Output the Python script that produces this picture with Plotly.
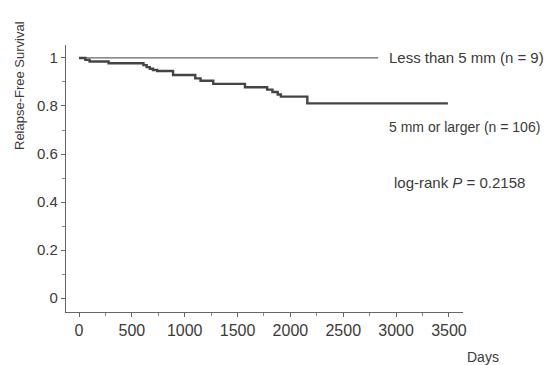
import plotly.graph_objects as go

# Data
small_days = [0, 2830]
small_surv = [1.0, 1.0]

large_days = [0, 60, 100, 280, 610, 640, 670, 700, 740, 890, 1100, 1150, 1270,
              1570, 1780, 1830, 1880, 1910, 2160, 3490]
large_surv = [1.0, 0.992, 0.985, 0.978, 0.97, 0.962, 0.955, 0.95, 0.946, 0.929,
              0.915, 0.905, 0.892, 0.878, 0.868, 0.858, 0.848, 0.839, 0.811, 0.811]

x_ticks = [0, 500, 1000, 1500, 2000, 2500, 3000, 3500]
y_ticks = [0, 0.2, 0.4, 0.6, 0.8, 1]
y_ticklabels = ["0", "0.2", "0.4", "0.6", "0.8", "1"]

OFF = 8  # page body margin
W, H = 554 - OFF, 365 - OFF
# plot area in window pixel coordinates
X0, X1, Y0, Y1 = 66, 463, 45, 312
L, R, T, B = X0 - OFF, 554 - X1, Y0 - OFF, 365 - Y1
pw, ph = X1 - X0, Y1 - Y0

def px(x):
    return (x - X0) / pw

def py(y):
    return (Y1 - y) / ph

txt = "#3a3a3a"
font = "Liberation Sans, Arial, sans-serif"

fig = go.Figure()
fig.add_trace(go.Scatter(x=small_days, y=small_surv, mode="lines", line_shape="hv",
                         line=dict(color="#666666", width=1.3), showlegend=False))
fig.add_trace(go.Scatter(x=large_days, y=large_surv, mode="lines", line_shape="hv",
                         line=dict(color="#444444", width=2.4), showlegend=False))

fig.update_layout(
    width=W, height=H,
    margin=dict(l=L, r=R, t=T, b=B),
    paper_bgcolor="white", plot_bgcolor="white",
    font=dict(family=font, color=txt),
    xaxis=dict(range=[-123, 3633], tickvals=x_ticks, ticks="outside", ticklen=4,
               tickcolor="#666", showline=True, linecolor="#666", linewidth=1.2,
               showgrid=False, zeroline=False, tickfont=dict(size=16, color=txt),
               minor=dict(dtick=250, tick0=0, ticks="outside", ticklen=3, tickcolor="#888")),
    yaxis=dict(range=[-0.058, 1.054], tickvals=y_ticks, ticktext=y_ticklabels,
               ticks="outside", ticklen=4, tickcolor="#666", showline=True,
               linecolor="#666", linewidth=1.2, showgrid=False, zeroline=False,
               tickfont=dict(size=15, color=txt),
               minor=dict(dtick=0.1, tick0=0, ticks="outside", ticklen=3, tickcolor="#888")),
)

def ann(text, x, y, size, xanchor="left", textangle=0):
    fig.add_annotation(text=text, x=px(x), y=py(y), xref="paper", yref="paper",
                       showarrow=False, xanchor=xanchor, yanchor="middle",
                       textangle=textangle, font=dict(size=size, color=txt, family=font))

ann("Less than 5 mm (n = 9)", 387, 57, 15)
ann("5 mm or larger (n = 106)", 387, 127, 14)
ann("log-rank <i>P</i> = 0.2158", 392, 183, 15)
ann("Days", 465, 357, 14)
ann("Relapse-Free Survival", 19, 86, 13, xanchor="center", textangle=-90)

fig.write_html("out.html")
